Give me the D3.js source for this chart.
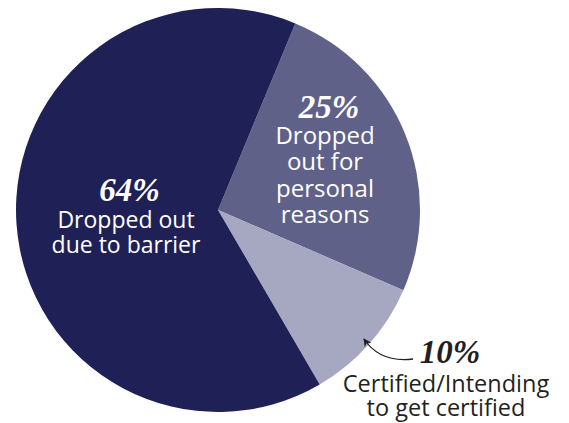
<!DOCTYPE html>
<html>
<head>
<meta charset="utf-8">
<script src="https://cdn.jsdelivr.net/npm/d3@7"></script>
<style>
  html, body { margin: 0; padding: 0; background: #fff; }
  svg { display: block; }
</style>
</head>
<body>
<svg id="chart" width="569" height="423"></svg>
<script>
// Outcomes of participants
const categories = ["personal", "certified", "barrier"];
const percents = [25, 10, 64];
const percentLabels = ["25%", "10%", "64%"];
const descriptions = [
  ["Dropped", "out for", "personal", "reasons"],
  ["Certified/Intending", "to get certified"],
  ["Dropped out", "due to barrier"]
];
const palette = ["#5f6189", "#a6a7c1", "#1f2156"];

const width = 569, height = 423;
const cx = 218, cy = 210, radius = 202;

const svg = d3.select("#chart");
const g = svg.append("g").attr("transform", `translate(${cx},${cy})`);

const color = d3.scaleOrdinal().domain(categories).range(palette);

const start = 22.5 * Math.PI / 180;
const pie = d3.pie().sort(null).value(d => d.value)
  .startAngle(start).endAngle(start + 2 * Math.PI);
const arc = d3.arc().innerRadius(0).outerRadius(radius);

const rows = categories.map((c, i) => ({
  key: c, value: percents[i], label: percentLabels[i], lines: descriptions[i]
}));
const arcs = pie(rows);

g.selectAll("path.slice")
  .data(arcs)
  .join("path")
  .attr("class", "slice")
  .attr("d", arc)
  .attr("fill", d => color(d.data.key));

// Label placement relative to the pie centre:
// (dx, dy) is the baseline of the percentage line, lines follow below it.
const labelLayout = {
  barrier:   { dx: -92, dy: -9.5, pctShift: 3.5, gap: 27.5, lead: 25,   size: 23, fill: "#ffffff" },
  personal:  { dx: 107, dy: -92,  pctShift: 4,   gap: 25.5, lead: 26.5, size: 24, fill: "#ffffff" },
  certified: { dx: 228, dy: 153,  pctShift: 4,   gap: 29,   lead: 23.5, size: 23.5, fill: "#231f20" }
};

const serif = "'Liberation Serif', 'Times New Roman', serif";
const sans = "'Open Sans', 'Noto Sans', sans-serif";

arcs.forEach(a => {
  const L = labelLayout[a.data.key];
  const t = g.append("g").attr("transform", `translate(${L.dx},${L.dy})`);
  t.append("text")
    .attr("x", L.pctShift)
    .attr("text-anchor", "middle")
    .attr("font-family", serif)
    .attr("font-weight", "bold")
    .attr("font-style", "italic")
    .attr("font-size", 33)
    .attr("fill", L.fill)
    .text(a.data.label);
  a.data.lines.forEach((line, i) => {
    t.append("text")
      .attr("y", L.gap + L.lead * i)
      .attr("text-anchor", "middle")
      .attr("font-family", sans)
      .attr("font-size", L.size)
      .attr("fill", L.fill)
      .text(line);
  });
});

// Pointer from the 10% label to its slice
const defs = svg.append("defs");
defs.append("marker")
  .attr("id", "arrowhead")
  .attr("viewBox", "0 0 10 10")
  .attr("refX", 9).attr("refY", 5)
  .attr("markerWidth", 8).attr("markerHeight", 8)
  .attr("markerUnits", "userSpaceOnUse")
  .attr("orient", "auto")
  .append("path")
  .attr("d", "M0,0 L10,5 L0,10 L3,5 Z")
  .attr("fill", "#231f20");

const pointer = d3.path();
pointer.moveTo(413, 359);
pointer.quadraticCurveTo(380, 363, 364, 339);
svg.append("path")
  .attr("d", pointer.toString())
  .attr("fill", "none")
  .attr("stroke", "#231f20")
  .attr("stroke-width", 1.3)
  .attr("marker-end", "url(#arrowhead)");
</script>
</body>
</html>
